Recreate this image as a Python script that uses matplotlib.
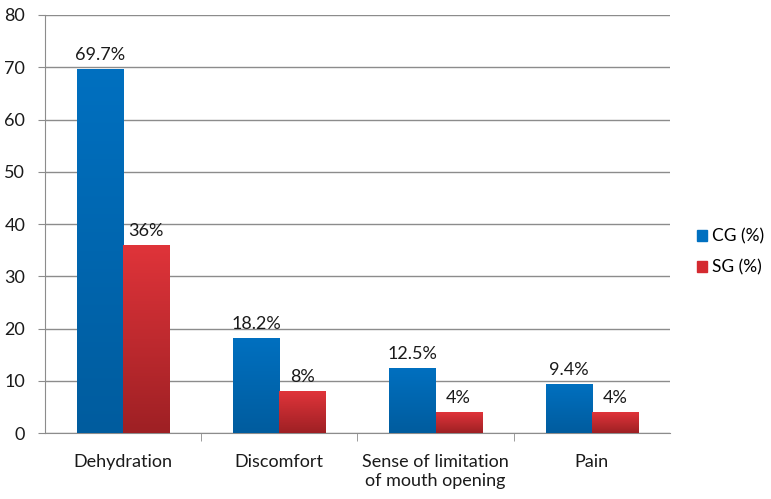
import matplotlib.pyplot as plt
import numpy as np
from matplotlib.colors import LinearSegmentedColormap
from matplotlib.patches import Patch

plt.rcParams["font.family"] = ["Lato", "DejaVu Sans"]

categories = ["Dehydration", "Discomfort", "Sense of limitation\nof mouth opening", "Pain"]
cg_values = [69.7, 18.2, 12.5, 9.4]
sg_values = [36, 8, 4, 4]
cg_labels = ["69.7%", "18.2%", "12.5%", "9.4%"]
sg_labels = ["36%", "8%", "4%", "4%"]

fs = 13

fig = plt.figure(figsize=(7.71, 4.99), dpi=100)
ax = fig.add_axes([0.058, 0.132, 0.811, 0.838])

x = np.arange(len(categories))
w = 0.295

blue_cmap = LinearSegmentedColormap.from_list("b", ["#005C9E", "#0070C0"])
red_cmap = LinearSegmentedColormap.from_list("r", ["#9E2024", "#E0343A"])
grad = np.linspace(0, 1, 256).reshape(-1, 1)

for vals, offset, cmap in [(cg_values, -w / 2, blue_cmap), (sg_values, w / 2, red_cmap)]:
    bars = ax.bar(x + offset, vals, w, color="none", zorder=3)
    for b in bars:
        x0, y0 = b.get_x(), b.get_y()
        im = ax.imshow(grad, cmap=cmap, origin="lower", aspect="auto",
                       extent=[x0, x0 + b.get_width(), y0, y0 + b.get_height()], zorder=3)
        im.set_clip_path(b)

for xi, v, lab in zip(x - w / 2, cg_values, cg_labels):
    ax.text(xi, v + 1.2, lab, ha="center", va="bottom", fontsize=fs, color="#1a1a1a")
for xi, v, lab in zip(x + w / 2, sg_values, sg_labels):
    ax.text(xi, v + 1.2, lab, ha="center", va="bottom", fontsize=fs, color="#1a1a1a")

ax.set_xlim(-0.5, len(categories) - 0.5)
ax.set_ylim(0, 80)
ax.set_yticks(np.arange(0, 81, 10))
ax.yaxis.grid(True, color="#8c8c8c", linewidth=1)
ax.set_axisbelow(True)

ax.set_xticks(x)
ax.set_xticklabels(categories, fontsize=fs, color="#1a1a1a")
ax.tick_params(axis="x", length=0, pad=15)
ax.set_xticks(np.arange(0.5, len(categories) - 1), minor=True)
ax.tick_params(axis="x", which="minor", length=6, color="#8c8c8c")
ax.tick_params(axis="y", length=5, color="#8c8c8c", labelsize=fs, labelcolor="#1a1a1a", pad=9)

for s in ["top", "right"]:
    ax.spines[s].set_visible(False)
for s in ["left", "bottom"]:
    ax.spines[s].set_color("#8c8c8c")

handles = [Patch(color="#0070C0", label="CG (%)"), Patch(color="#D42A30", label="SG (%)")]
fig.legend(handles=handles, loc="center left", bbox_to_anchor=(0.888, 0.495), frameon=False,
           fontsize=12.5, handlelength=0.6, handleheight=0.6, handletextpad=0.3,
           labelspacing=0.85, borderpad=0.2)

fig.savefig("out.png", dpi=100)
